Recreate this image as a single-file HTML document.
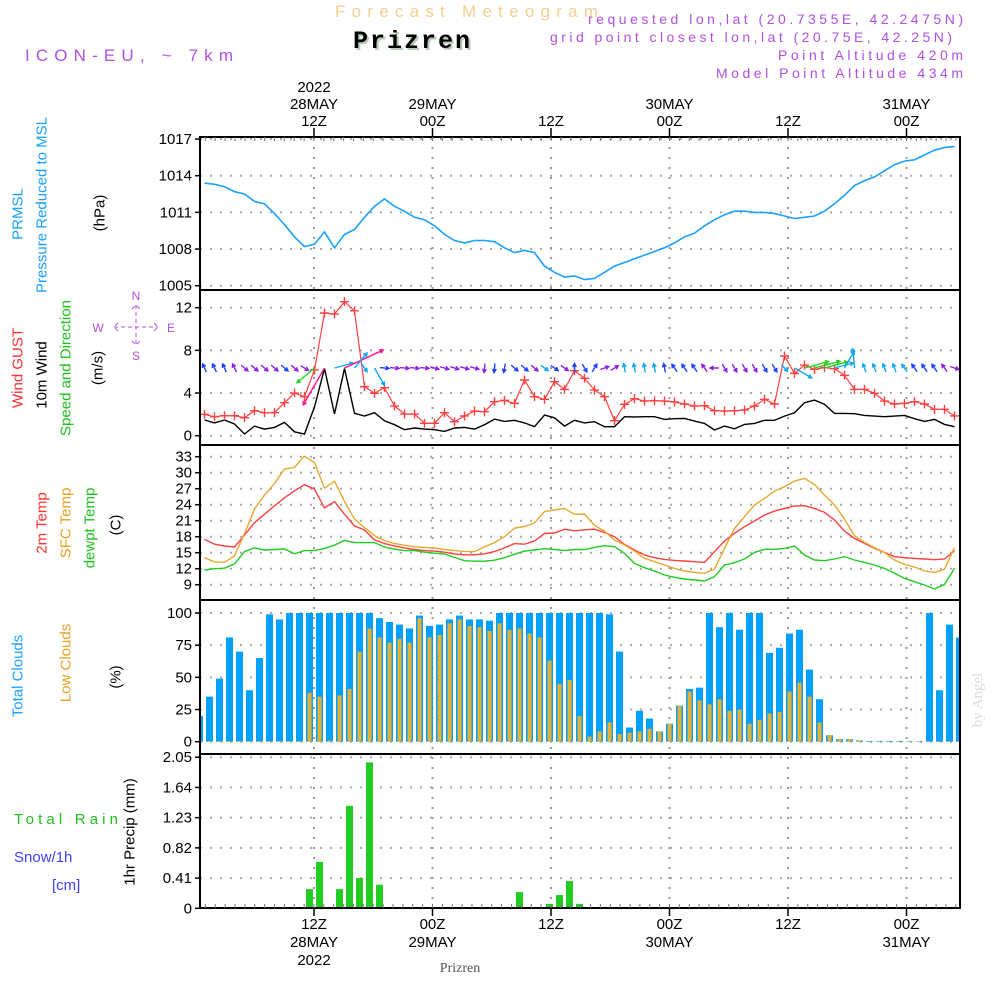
<!DOCTYPE html>
<html><head><meta charset="utf-8"><style>
html,body{margin:0;padding:0;background:#fff;}
svg{display:block;font-family:"Liberation Sans",sans-serif;}
</style></head><body>
<svg id="chart" width="1000" height="1000" viewBox="0 0 1000 1000" xmlns="http://www.w3.org/2000/svg">
<defs><clipPath id="plotclip"><rect x="200" y="130" width="760" height="790"/></clipPath></defs>
<rect width="1000" height="1000" fill="#fff"/>
<text x="335" y="17" font-size="17" fill="#f3cf90" textLength="263">Forecast Meteogram</text>
<text x="355" y="50" font-size="25" font-weight="bold" font-family="Liberation Mono, monospace" fill="#b8ccb8" textLength="117">Prizren</text>
<text x="353" y="48" font-size="25" font-weight="bold" font-family="Liberation Mono, monospace" fill="#000" textLength="117">Prizren</text>
<text x="25" y="61" font-size="17" fill="#b050e0" textLength="208">ICON-EU, ~ 7km</text>
<text x="588" y="24" font-size="14" fill="#b050e0" textLength="375">requested lon,lat (20.7355E, 42.2475N)</text>
<text x="550" y="42" font-size="14" fill="#b050e0" textLength="402">grid point closest lon,lat (20.75E, 42.25N)</text>
<text x="778" y="60" font-size="14" fill="#b050e0" textLength="185">Point Altitude 420m</text>
<text x="716" y="78" font-size="14" fill="#b050e0" textLength="247">Model Point Altitude 434m</text>
<text transform="translate(982,700) rotate(-90)" text-anchor="middle" font-size="15" font-family="Liberation Serif, serif" fill="#d8ddd8">by Angel</text>
<g font-size="15" text-anchor="middle" dominant-baseline="central">
<text transform="translate(18,214) rotate(-90)" fill="#1aa0ff">PRMSL</text>
<text transform="translate(42,205) rotate(-90)" fill="#1aa0ff">Pressure Reduced to MSL</text>
<text transform="translate(100,213) rotate(-90)" fill="#000">(hPa)</text>
<text transform="translate(18,368) rotate(-90)" fill="#ff3030">Wind GUST</text>
<text transform="translate(42,375) rotate(-90)" fill="#000">10m Wind</text>
<text transform="translate(66,368) rotate(-90)" fill="#20c020">Speed and Direction</text>
<text transform="translate(98,368) rotate(-90)" fill="#000">(m/s)</text>
<text transform="translate(42,523) rotate(-90)" fill="#ff3030">2m Temp</text>
<text transform="translate(66,523) rotate(-90)" fill="#e8a020">SFC Temp</text>
<text transform="translate(90,528) rotate(-90)" fill="#20c020">dewpt Temp</text>
<text transform="translate(116,525) rotate(-90)" fill="#000">(C)</text>
<text transform="translate(18,676) rotate(-90)" fill="#1aa0ff">Total Clouds</text>
<text transform="translate(66,663) rotate(-90)" fill="#e8a020">Low Clouds</text>
<text transform="translate(116,677) rotate(-90)" fill="#000">(%)</text>
<text transform="translate(130,832) rotate(-90)" fill="#000">1hr Precip (mm)</text>
</g>
<text x="14" y="824" font-size="15" fill="#20c020" textLength="104">Total  Rain</text>
<text x="14" y="862" font-size="15" fill="#4040ff">Snow/1h</text>
<text x="52" y="890" font-size="15" fill="#4040ff">[cm]</text>
<g font-size="12" fill="#b050e0" text-anchor="middle">
<text x="136" y="300">N</text>
<text x="98" y="332">W</text><text x="171" y="332">E</text>
<text x="136" y="360">S</text>
<path d="M114,327h44M136,305v40M118,323l-4,4l4,4M154,323l4,4l-4,4M132,309l4,-4l4,4M132,341l4,4l4,-4" fill="none" stroke="#b050e0" stroke-width="1" stroke-dasharray="4,3"/>
</g>
<g id="grid"></g>
<g id="marks" clip-path="url(#plotclip)"></g>
<g id="frames"></g>
<g id="ticks" font-size="15" fill="#000"></g>
<text x="460" y="972" font-size="14" font-family="Liberation Serif, serif" text-anchor="middle" fill="#555">Prizren</text>
</svg>
<script>
const pressure=[1013.4,1013.3,1013.1,1012.7,1012.5,1011.9,1011.7,1010.9,1010.0,1009.0,1008.2,1008.4,1009.4,1008.1,1009.2,1009.6,1010.6,1011.5,1012.1,1011.5,1011.1,1010.6,1010.4,1009.9,1009.2,1008.7,1008.5,1008.7,1008.7,1008.6,1008.1,1007.7,1007.9,1007.7,1006.6,1006.1,1005.7,1005.8,1005.5,1005.6,
1006.1,1006.6,1006.9,1007.2,1007.5,1007.8,1008.1,1008.5,1009.0,1009.3,1009.9,1010.4,1010.8,1011.1,1011.1,1011.0,1011.0,1010.9,1010.7,1010.5,1010.6,1010.7,1011.1,1011.7,1012.4,1013.2,1013.6,1013.9,1014.4,1014.9,1015.2,1015.3,1015.7,1016.1,1016.3,1016.4];
const gust=[2.0,1.78,1.87,1.87,1.69,2.34,2.16,2.16,3.09,4.0,3.66,6.16,11.5,11.4,12.56,11.7,4.6,3.97,4.5,2.78,2.03,2.03,1.16,1.16,2.16,1.31,1.85,2.31,2.25,3.19,3.31,3.03,5.22,3.66,3.41,5.06,4.34,6.09,5.38,4.28,
3.66,1.41,2.94,3.47,3.25,3.28,3.25,3.16,2.97,2.78,2.81,2.34,2.31,2.34,2.41,2.78,3.41,2.97,7.47,5.84,6.62,6.22,6.37,6.28,5.66,4.34,4.34,3.97,3.25,2.97,3.03,3.19,2.97,2.47,2.47,1.85];
const wind10m=[1.47,1.2,1.47,1.1,0.16,0.9,0.62,0.78,1.25,0.37,0.16,2.7,6.3,2.03,6.3,2.1,1.85,2.16,1.4,1.03,0.56,0.72,0.62,0.56,0.4,0.72,0.78,0.62,1.03,1.56,1.34,1.44,1.2,0.84,1.93,1.68,0.9,1.44,1.2,1.31,
0.84,0.84,1.78,1.75,1.78,1.78,1.53,1.59,1.62,1.37,1.15,0.53,0.9,0.65,1.06,1.15,1.44,1.44,1.84,2.15,3.09,3.34,2.93,2.09,2.09,2.06,1.9,1.84,1.78,1.84,1.9,1.59,1.34,1.53,1.06,0.84];
const windDir=[-115,-115,-115,-115,40,40,40,40,40,40,30,140,120,-15,-25,-50,55,60,5,5,5,5,5,15,15,15,15,15,95,95,100,40,40,40,35,35,35,-90,60,-60,
-20,-30,-100,-100,-100,-100,-100,-125,-125,-125,-125,180,60,60,60,60,60,60,45,30,-15,-15,-15,-15,-60,-95,-110,-110,-110,-110,-125,-125,-125,-125,-125,20];
const temp2m=[17.5,16.6,16.25,16.06,18.3,20.6,22.2,23.8,25.3,26.6,27.75,26.9,23.4,24.6,22.2,20,19.25,17.4,16.7,16.25,15.9,15.6,15.4,15.3,15.1,14.75,14.6,14.6,14.8,15.2,15.9,16.7,16.6,17.2,18.6,18.7,19.4,19.1,19.3,19.4,
18.81,18,16.56,15.5,14.56,14.06,13.75,13.56,13.44,13.31,13.19,15.19,17.19,18.63,19.88,20.94,22.06,22.81,23.31,23.75,23.81,23.31,22.56,21.13,19.06,17.69,16.75,15.81,15.06,14.25,14.06,13.94,13.81,13.69,13.81,15.31];
const tempSfc=[14.06,13.3,13.2,14.4,18.6,23.2,25.8,28,30.7,31,33.1,31.9,27.1,28.4,24.6,21.3,19.7,18.2,17.25,16.7,16.4,16.1,16,15.9,15.6,15.4,15.25,15.2,16.1,16.9,18,19.6,19.9,20.6,22.7,23,23.3,22.2,22.25,20.1,
19.06,17.38,16.44,15.31,13.94,13.31,12.69,12.06,11.56,11.31,11.13,11.94,15.81,19.56,21.75,23.94,25.19,26.56,27.38,28.44,28.94,27.81,25.81,23.94,21.31,18.19,16.94,15.94,15.06,13.63,12.81,12.31,11.56,11.31,11.88,15.94];
const dewpt=[11.75,12,12.1,12.9,15.2,15.9,15.5,15.6,15.7,14.8,15.4,15.4,15.8,16.4,17.3,16.9,16.9,16.9,16.06,15.7,15.4,15.4,15.1,14.9,14.75,14.1,13.5,13.4,13.4,13.6,14.06,14.7,15.3,15.5,15.75,15.6,15.4,15.6,15.6,16,
16.31,16.13,14.88,13,12.19,11.56,10.81,10.38,10.06,9.88,9.69,10.5,12.69,13.13,13.81,15.06,15.63,15.63,15.81,16.25,14.56,13.63,13.5,13.81,14.25,13.63,13.19,12.69,12.06,11.13,10.19,9.56,8.94,8.19,9.06,12.06];
const totalClouds=[20,35,49,81,70,40,65,99,95,100,100,100,100,100,100,100,100,100,96,93,91,88,98,90,91,95,98,95,95,94,100,100,100,100,100,100,100,100,100,100,
100,99,70,11,24,18,8,14,28,41,42,100,89,100,87,100,100,69,73,84,87,56,33,5,2,2,1,0.5,0.5,0.5,0.5,0.3,0.3,100,40,91,81];
const lowClouds=[0.5,0.5,0.5,0.5,0.5,0.5,0.5,0.5,0.5,0.5,0.5,38,35,1,36,41,70,88,81,77,80,77,96,81,83,92,95,90,89,86,92,87,88,84,81,63,45,48,20,4,
8,15,6,7,8,10,8,14,28,39,32,29,33,24,25,14,17,22,23,39,46,35,15,5,2,2,1,0.3,0.3,0.3,0.3,0.3,0.3,0.3,0.3,0.3,0.3];
const precip=[0,0,0,0,0,0,0,0,0,0,0,0.26,0.63,0,0.26,1.39,0.41,1.98,0.32,0,0,0,0,0,0,0,0,0,0,0,0,0,0.22,0,0,0.06,0.18,0.37,0.06,0,
0,0,0,0,0,0,0,0,0,0,0,0,0,0,0,0,0,0,0,0,0,0,0,0,0,0,0,0,0,0,0,0,0,0,0,0,0];
const pTicks=[1005,1008,1011,1014,1017];
const wTicks=[0,4,8,12];
const tTicks=[9,12,15,18,21,24,27,30,33];
const cTicks=[0,25,50,75,100];
const rTicks=[0,0.41,0.82,1.23,1.64,2.05];
const timeHours=[12,24,36,48,60,72];
const topLabels=[["2022","28MAY","12Z"],["","29MAY","00Z"],["","","12Z"],["","30MAY","00Z"],["","","12Z"],["","31MAY","00Z"]];
const botLabels=[["12Z","28MAY","2022"],["00Z","29MAY",""],["12Z","",""],["00Z","30MAY",""],["12Z","",""],["00Z","31MAY",""]];

const xL=k=>204.5+10*k;
const xB=k=>199.5+10*k;
const xT=h=>314+(h-12)*9.875;
const yP=p=>285.7-(p-1005)*12.22;
const yW=v=>435.7-v*10.67;
const yT=t=>584.7-(t-9)*5.333;
const yC=c=>741.7-c*1.287;
const yR=r=>908.3-r*73.7;
const panels=[[137,290],[290,445],[445,600],[600,754],[754,908]];

const NS='http://www.w3.org/2000/svg';
function mk(parent,tag,attrs){const e=document.createElementNS(NS,tag);for(const k in attrs)e.setAttribute(k,attrs[k]);parent.appendChild(e);return e;}
const grid=document.getElementById('grid'),marks=document.getElementById('marks'),frames=document.getElementById('frames'),ticks=document.getElementById('ticks');

function hgrid(vals,ys,name){vals.forEach(v=>{const l=mk(grid,'line',{x1:200,x2:960,y1:ys(v),y2:ys(v),stroke:'#aaa','stroke-width':2,'stroke-dasharray':'2,8'});

});}
hgrid(pTicks,yP,'pressure');hgrid(wTicks,yW,'wind');hgrid(tTicks,yT,'temp');hgrid(cTicks,yC,'cloud');hgrid(rTicks,yR,'precip');
timeHours.forEach(h=>{const l=mk(grid,'line',{x1:xT(h),x2:xT(h),y1:137,y2:908,stroke:'#999','stroke-width':2,'stroke-dasharray':'2,8'});

});

function ylabels(vals,ys,fmt,name){vals.forEach(v=>{const t=mk(ticks,'text',{x:192,y:ys(v)+5,'text-anchor':'end'});t.textContent=fmt(v);


mk(ticks,'line',{x1:195,x2:200,y1:ys(v),y2:ys(v),stroke:'#000','stroke-width':1.5});});}
ylabels(pTicks,yP,v=>String(v),'pressure');
ylabels(wTicks,yW,v=>String(v),'wind');
ylabels(tTicks,yT,v=>String(v),'temp');
ylabels(cTicks,yC,v=>String(v),'cloud');
ylabels(rTicks,yR,v=>v===0?'0':v.toFixed(2),'precip');
timeHours.forEach((h,i)=>{
  topLabels[i].forEach((s,j)=>{if(!s)return;const t=mk(ticks,'text',{x:xT(h),y:92+j*17,'text-anchor':'middle'});t.textContent=s;
  
  });
  botLabels[i].forEach((s,j)=>{if(!s)return;const t=mk(ticks,'text',{x:xT(h),y:929+j*18,'text-anchor':'middle'});t.textContent=s;
  
  });
  mk(ticks,'line',{x1:xT(h),x2:xT(h),y1:128,y2:137,stroke:'#000','stroke-width':1.5});
  mk(ticks,'line',{x1:xT(h),x2:xT(h),y1:908,y2:916,stroke:'#000','stroke-width':1.5});
});
for(let h=1;h<78;h++){const x=xT(h);if(x<201||x>959)continue;
  mk(ticks,'line',{x1:x,x2:x,y1:137,y2:141,stroke:'#777','stroke-width':1});
  mk(ticks,'line',{x1:x,x2:x,y1:904,y2:908,stroke:'#777','stroke-width':1});}

totalClouds.forEach((v,k)=>{const r=mk(marks,'rect',{x:xB(k)-3.5,y:yC(v),width:7,height:yC(0)-yC(v),fill:'#00a0ff'});

});
lowClouds.forEach((v,k)=>{const r=mk(marks,'rect',{x:xB(k)-2,y:yC(v),width:4,height:yC(0)-yC(v),fill:'#e8b030'});

});
precip.forEach((v,k)=>{if(v<=0)return;const r=mk(marks,'rect',{x:xB(k)-3.5,y:yR(v),width:7,height:yR(0)-yR(v),fill:'#22cc22'});

});
mk(marks,'line',{x1:200,x2:960,y1:yR(0),y2:yR(0),stroke:'#555','stroke-width':1.5,'stroke-dasharray':'3,2'});

function line(arr,ys,color,name,w){const d=arr.map((v,k)=>(k?'L':'M')+xL(k).toFixed(1)+','+ys(v).toFixed(1)).join('');
const p=mk(marks,'path',{d:d,fill:'none',stroke:color,'stroke-width':w||1.4});

return p;}
line(pressure,yP,'#1aa0ff','pressure-line',1.6);
line(temp2m,yT,'#ff4040','temp-2m-line');
line(tempSfc,yT,'#e8a830','sfc-temp-line');
line(dewpt,yT,'#20cc20','dewpt-line');
line(wind10m,yW,'#000','wind-10m-line');
line(gust,yW,'#ff4040','gust-line',1.2);
gust.forEach((v,k)=>{const x=xL(k),y=yW(v);
const g=mk(marks,'path',{d:`M${x-4.5},${y}h9M${x},${y-4.5}v9`,stroke:'#ff4040','stroke-width':1.4});

});
function wcol(s){return s<1.2?'#9020e0':s<1.7?'#2040ff':s<2.2?'#10a8f0':s<4?'#20d020':'#ff1090';}
windDir.forEach((a,k)=>{const s=wind10m[k],len=s<2?9:8+s*5.5,rad=a*Math.PI/180;
let x0=xL(k),y0=368;if(len<16){x0-=Math.cos(rad)*len/2;y0-=Math.sin(rad)*len/2;}
const x1=x0+Math.cos(rad)*len,y1=y0+Math.sin(rad)*len,h=4;
const hx1=x1-Math.cos(rad-0.5)*h,hy1=y1-Math.sin(rad-0.5)*h,hx2=x1-Math.cos(rad+0.5)*h,hy2=y1-Math.sin(rad+0.5)*h;
const p=mk(marks,'path',{d:`M${x0.toFixed(1)},${y0.toFixed(1)}L${x1.toFixed(1)},${y1.toFixed(1)}M${hx1.toFixed(1)},${hy1.toFixed(1)}L${x1.toFixed(1)},${y1.toFixed(1)}L${hx2.toFixed(1)},${hy2.toFixed(1)}`,fill:'none',stroke:wcol(s),'stroke-width':1.4});

});

panels.forEach(([t,b])=>{const r=mk(frames,'rect',{x:200,y:t,width:760,height:b-t,fill:'none',stroke:'#000','stroke-width':2});

});
</script>
</body></html>
